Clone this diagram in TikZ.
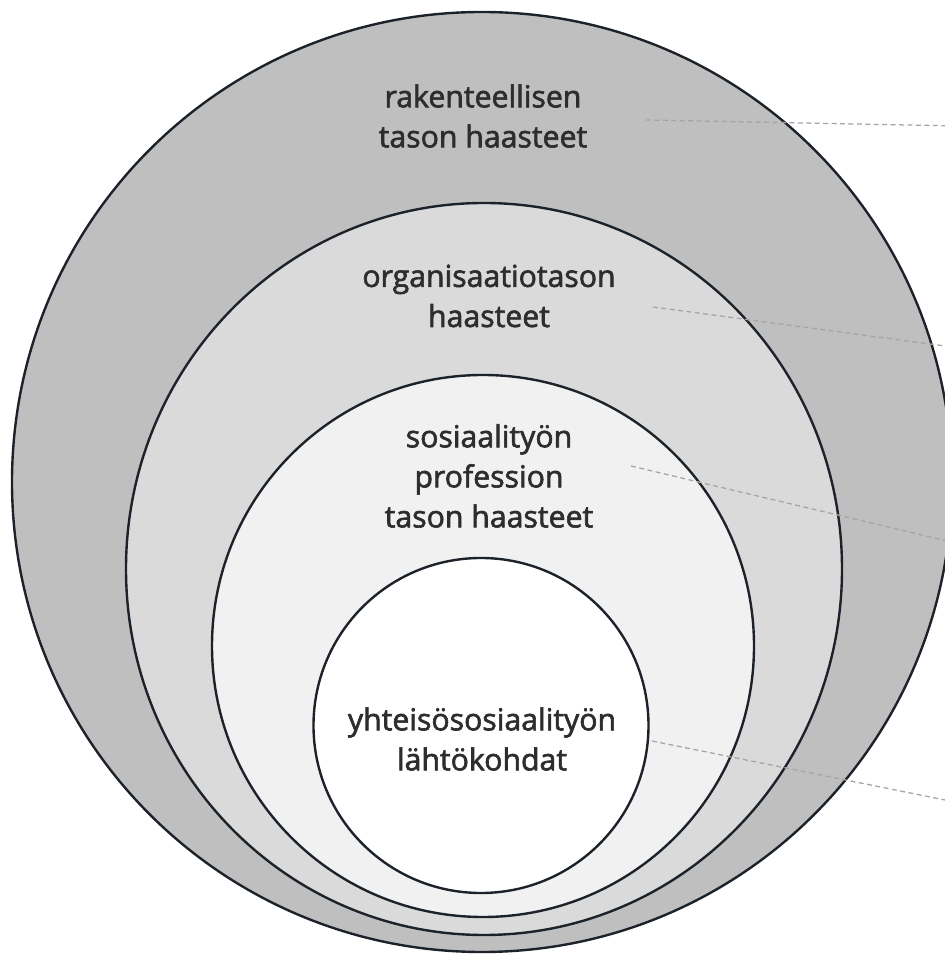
\documentclass[tikz,border=0pt]{standalone}
\usepackage{fontspec}
\setmainfont{Open Sans}
\newfontfamily\lblfont[FakeBold=2]{Open Sans}
\definecolor{ringline}{RGB}{28,34,42}
\definecolor{leader}{RGB}{165,165,165}
\definecolor{txt}{RGB}{45,45,45}
\tikzset{
  ring/.style={draw=ringline, line width=1.7pt},
  lbl/.style={align=center, text=txt, font=\lblfont\fontsize{21.5}{28.5}\selectfont},
  leaderline/.style={draw=leader, dash pattern=on 3.5pt off 2.5pt, line width=0.9pt}
}
\begin{document}
\begin{tikzpicture}[x=0.025cm, y=0.025cm]
    \clip (0,0) rectangle (945,955);
    \fill[white] (0,0) rectangle (945,955);

    % Levels, outermost first
    \draw[ring, fill=gray!50] (482,473) circle [radius=470];
    \draw[ring, fill=gray!29] (484,386) ellipse [x radius=358, y radius=366];
    \draw[ring, fill=gray!11] (483,309) circle [radius=271];
    \draw[ring, fill=white] (481,229.5) circle [radius=167.5];

    % Labels
    \node[lbl] (rakLbl) at (483,839) {rakenteellisen\\tason haasteet};
    \node[lbl] (orgLbl) at (489,659) {organisaatiotason\\haasteet};
    \node[lbl] (sosLbl) at (489,479) {sosiaalityön\\profession\\tason haasteet};
    \node[lbl] (yhtLbl) at (482,216) {yhteisösosiaalityön\\lähtökohdat};

    % Leader lines
    \coordinate (rakA) at (646,835);
    \coordinate (rakB) at (960,829);
    \coordinate (orgA) at (653,648);
    \coordinate (orgB) at (960,607);
    \coordinate (sosA) at (631,489);
    \coordinate (sosB) at (960,411);
    \coordinate (yhtA) at (652,214);
    \coordinate (yhtB) at (960,152);
    \draw[leaderline] (rakA) -- (rakB);
    \draw[leaderline] (orgA) -- (orgB);
    \draw[leaderline] (sosA) -- (sosB);
    \draw[leaderline] (yhtA) -- (yhtB);
\end{tikzpicture}
\end{document}
